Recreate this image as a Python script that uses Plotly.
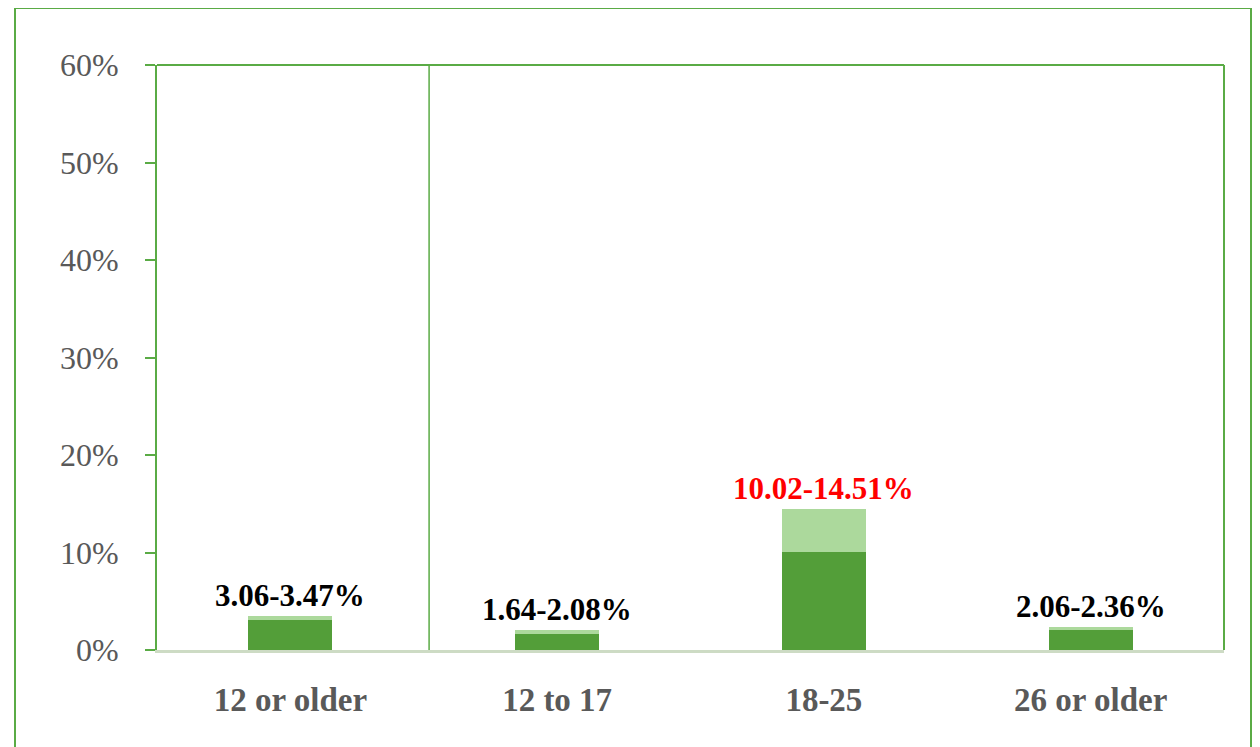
import plotly.graph_objects as go

categories = ["12 or older", "12 to 17", "18-25", "26 or older"]
lower = [3.06, 1.64, 10.02, 2.06]
upper = [3.47, 2.08, 14.51, 2.36]
label_colors = ["#000000", "#000000", "#ff0000", "#000000"]
y_ticks = [0, 10, 20, 30, 40, 50, 60]
y_tick_text = ["0%", "10%", "20%", "30%", "40%", "50%", "60%"]

# page body has an 8px margin, so the figure is drawn 8px in from the window edge
OFF = 8
W, H = 1252, 739
L, R, T, B = 157 - OFF, 36, 65 - OFF, 97
pw, ph = W - L - R, H - T - B

def px(x):
    return (x - OFF - L) / pw

def py(y):
    return (H - B - (y - OFF)) / ph

span = [u - l for u, l in zip(upper, lower)]
labels = ["%.2f-%.2f%%" % (lo, up) for lo, up in zip(lower, upper)]

fig = go.Figure()
fig.add_trace(go.Bar(x=categories, y=lower, marker=dict(color="#539e39", line=dict(width=0)),
                     width=0.315, showlegend=False, hoverinfo="skip"))
fig.add_trace(go.Bar(x=categories, y=span, base=lower,
                     marker=dict(color="#acd99c", line=dict(width=0)),
                     width=0.315, showlegend=False, hoverinfo="skip"))

for c, u, t, col in zip(categories, upper, labels, label_colors):
    fig.add_annotation(x=c, y=u, text="<b>%s</b>" % t,
                       showarrow=False, yanchor="bottom", yshift=1,
                       font=dict(family="Liberation Serif", size=31, color=col))

shapes = [
    dict(type="rect", xref="paper", yref="paper", x0=px(15), x1=px(1251), y0=py(770), y1=py(8),
         line=dict(color="#5aab45", width=2), fillcolor="rgba(0,0,0,0)", layer="below"),
    dict(type="line", xref="paper", yref="paper", x0=0, x1=1, y0=1, y1=1,
         line=dict(color="#5aab45", width=2)),
    dict(type="line", xref="paper", yref="paper", x0=1, x1=1, y0=0, y1=1,
         line=dict(color="#5aab45", width=2)),
    dict(type="line", xref="x", yref="paper", x0=0.52, x1=0.52, y0=0, y1=1,
         line=dict(color="#5aab45", width=1.5)),
]

fig.update_layout(
    width=W, height=H,
    margin=dict(l=L, r=R, t=T, b=B),
    paper_bgcolor="white", plot_bgcolor="white",
    barmode="overlay", bargap=0,
    shapes=shapes,
    xaxis=dict(range=[-0.5, 3.5], showgrid=False, showline=True, linecolor="#cddbc4", linewidth=3,
               ticks="", ticklabelstandoff=18,
               tickfont=dict(family="Liberation Serif", size=33, color="#595959", weight="bold"),
               zeroline=False, fixedrange=True),
    yaxis=dict(range=[0, 60], tickvals=y_ticks, ticktext=y_tick_text, showgrid=False,
               showline=True, linecolor="#5aab45", linewidth=2,
               ticks="outside", ticklen=10, tickwidth=2, tickcolor="#5aab45",
               ticklabelstandoff=20,
               tickfont=dict(family="Liberation Serif", size=32, color="#595959"),
               zeroline=False),
)

fig.write_html("out.html")
